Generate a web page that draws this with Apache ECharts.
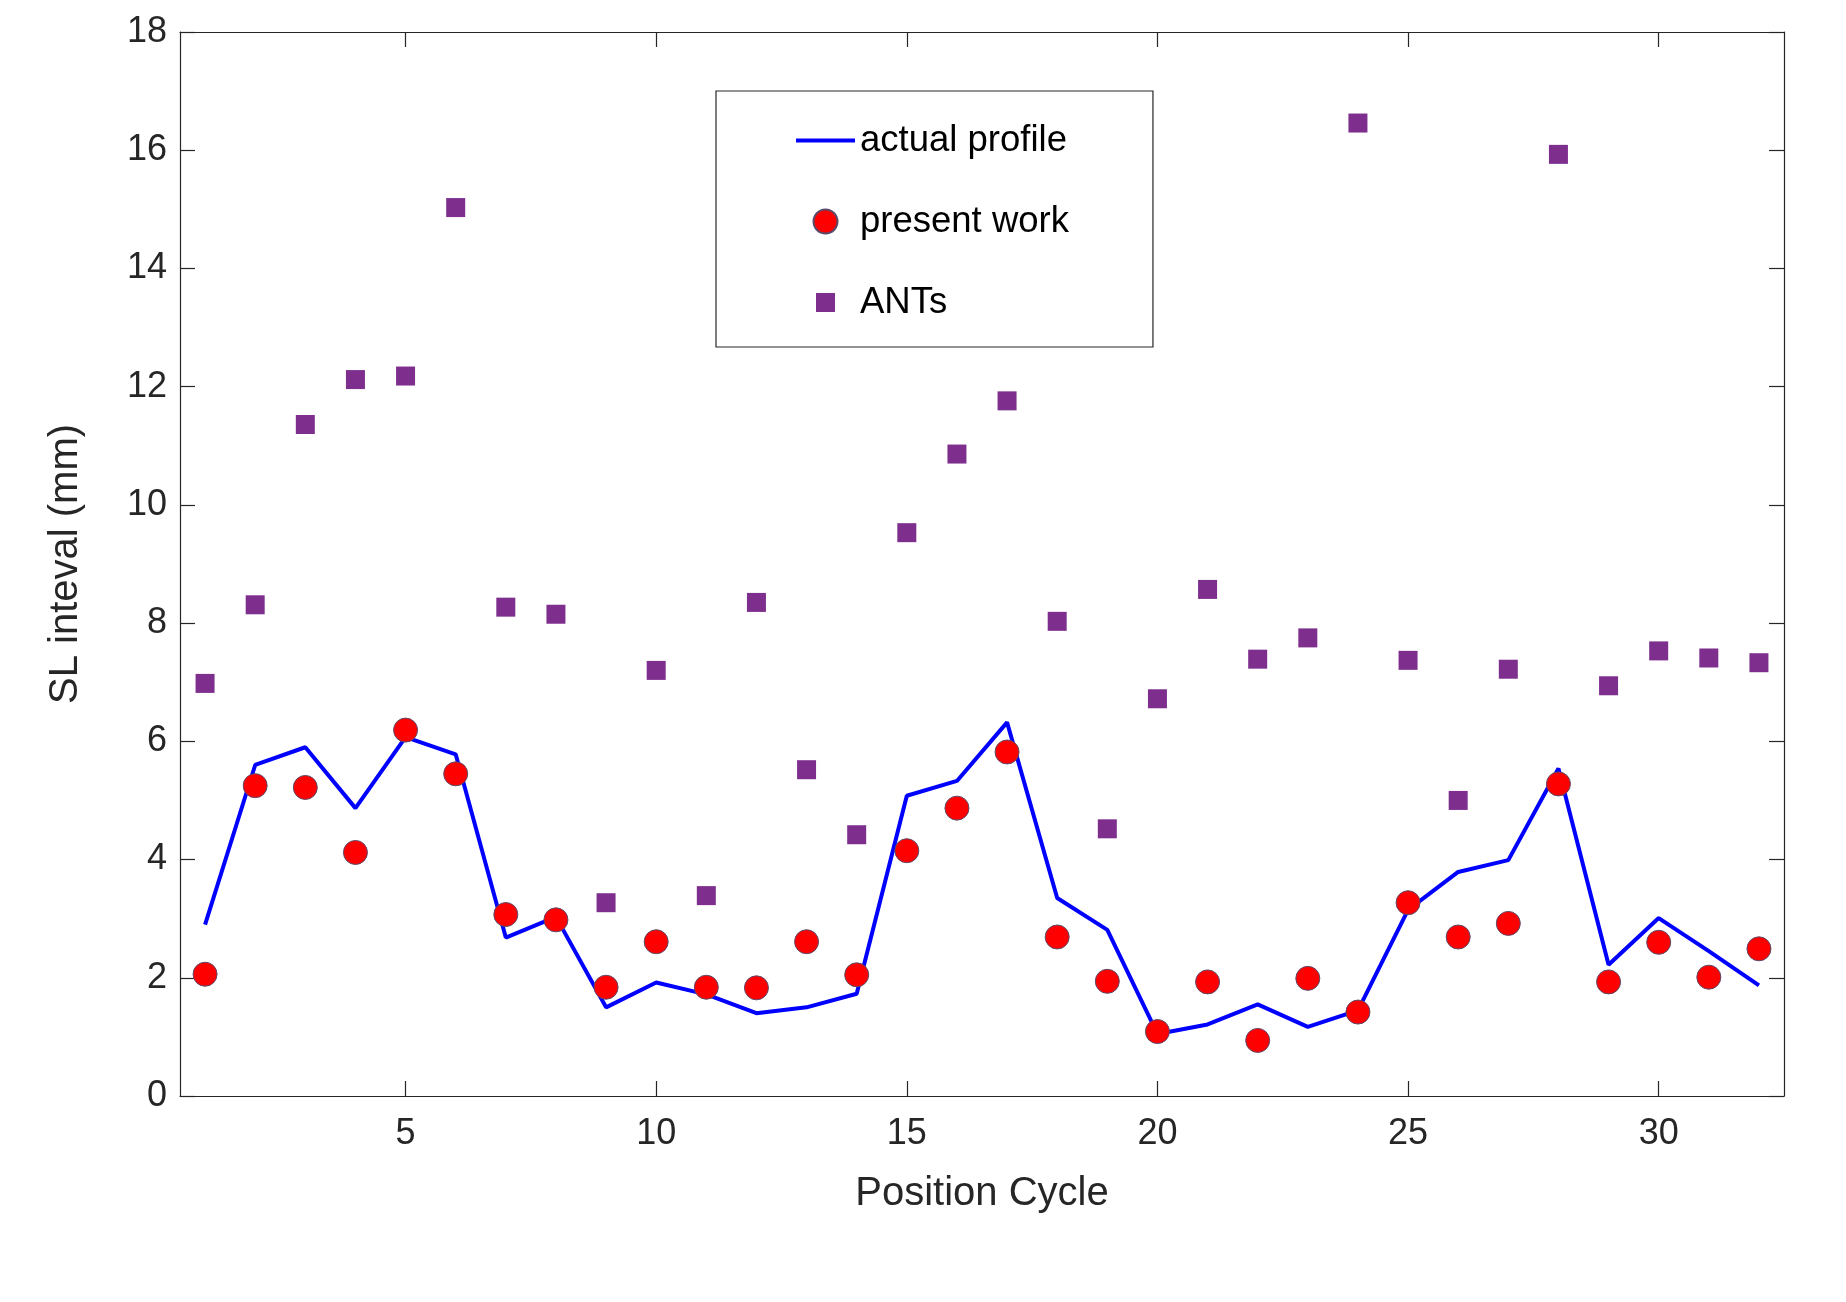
<!DOCTYPE html>
<html>
<head>
<meta charset="utf-8">
<script src="https://cdn.jsdelivr.net/npm/echarts@6/dist/echarts.min.js"></script>
<style>
html,body{margin:0;padding:0;background:#fff;}
#chart{width:1846px;height:1302px;}
</style>
</head>
<body>
<div id="chart"></div>
<script>
const cycles = [1,2,3,4,5,6,7,8,9,10,11,12,13,14,15,16,17,18,19,20,21,22,23,24,25,26,27,28,29,30,31,32];
const actualProfile = [2.90,5.60,5.90,4.87,6.07,5.78,2.68,3.03,1.50,1.92,1.72,1.40,1.50,1.73,5.08,5.33,6.32,3.35,2.81,1.05,1.21,1.55,1.17,1.45,3.15,3.79,3.99,5.54,2.22,3.01,2.45,1.87];
const presentWork = [2.06,5.25,5.22,4.12,6.19,5.45,3.07,2.98,1.84,2.61,1.84,1.83,2.61,2.05,4.15,4.87,5.82,2.69,1.94,1.09,1.93,0.94,1.99,1.42,3.27,2.69,2.92,5.28,1.93,2.60,2.01,2.49];
const ants = [6.98,8.31,11.36,12.12,12.18,15.03,8.27,8.15,3.27,7.20,3.39,8.35,5.52,4.42,9.53,10.86,11.76,8.03,4.52,6.72,8.57,7.39,7.75,16.46,7.37,5.00,7.22,15.93,6.94,7.53,7.41,7.33];
const xTicks = [5,10,15,20,25,30];
const seriesNames = ['actual profile','present work','ANTs'];

const pair = (arr) => cycles.map((c, i) => [c, arr[i]]);
const FONT = '"Liberation Sans", Arial, Helvetica, sans-serif';
const TXT = '#262626';

const chart = echarts.init(document.getElementById('chart'), null, {renderer: 'canvas'});

const baseX = {
  type: 'value', min: 0.5, max: 32.5,
  axisLine: {show: true, onZero: false, lineStyle: {color: TXT, width: 1.2}},
  axisTick: {show: true, inside: true, length: 15, customValues: xTicks, lineStyle: {color: TXT, width: 1.2}},
  splitLine: {show: false}
};
const baseY = {
  type: 'value', min: 0, max: 18, interval: 2,
  axisLine: {show: true, onZero: false, lineStyle: {color: TXT, width: 1.2}},
  axisTick: {show: true, inside: true, length: 15, lineStyle: {color: TXT, width: 1.2}},
  splitLine: {show: false}
};

const option = {
  animation: false,
  backgroundColor: '#fff',
  textStyle: {fontFamily: FONT},
  grid: {left: 180, right: 62, top: 32, bottom: 206, containLabel: false},
  xAxis: [
    Object.assign({}, baseX, {
      position: 'bottom',
      name: 'Position Cycle', nameLocation: 'middle', nameGap: 78,
      nameTextStyle: {fontSize: 40, color: TXT, fontFamily: FONT},
      axisLabel: {show: true, customValues: xTicks, margin: 20, fontSize: 36, color: TXT, fontFamily: FONT}
    }),
    Object.assign({}, baseX, {position: 'top', axisLabel: {show: false}})
  ],
  yAxis: [
    Object.assign({}, baseY, {
      position: 'left',
      name: 'SL inteval (mm)', nameLocation: 'middle', nameGap: 94,
      nameTextStyle: {fontSize: 40, color: TXT, fontFamily: FONT},
      axisLabel: {show: true, margin: 13, fontSize: 36, color: TXT, fontFamily: FONT}
    }),
    Object.assign({}, baseY, {position: 'right', axisLabel: {show: false}})
  ],
  legend: {
    data: [
      {name: seriesNames[0], icon: 'path://M0,0L59,0L59,4L0,4Z'},
      {name: seriesNames[1], icon: 'circle'},
      {name: seriesNames[2], icon: 'path://M0,0M24,24M2.5,2.5L21.5,2.5L21.5,21.5L2.5,21.5Z'}
    ],
    orient: 'vertical', left: 716, top: 91,
    padding: [29, 84, 24, 80],
    itemWidth: 59, itemHeight: 24, itemGap: 40, symbolKeepAspect: true,
    borderColor: TXT, borderWidth: 1.2, backgroundColor: '#fff',
    textStyle: {fontSize: 36.5, lineHeight: 41, color: '#000', fontFamily: FONT},
    selectedMode: false
  },
  series: [
    {
      name: seriesNames[0], type: 'line', data: pair(actualProfile),
      symbol: 'none', showSymbol: false,
      lineStyle: {color: '#0000ff', width: 4},
      itemStyle: {color: '#0000ff'},
      z: 2
    },
    {
      name: seriesNames[1], type: 'scatter', data: pair(presentWork),
      symbol: 'circle', symbolSize: 24,
      itemStyle: {color: '#ff0000', borderColor: '#5a4a6a', borderWidth: 1, opacity: 1},
      z: 3
    },
    {
      name: seriesNames[2], type: 'scatter', data: pair(ants),
      symbol: 'rect', symbolSize: 19,
      itemStyle: {color: '#7e2f8e', opacity: 1},
      z: 3
    }
  ]
};
chart.setOption(option);
</script>
</body>
</html>
